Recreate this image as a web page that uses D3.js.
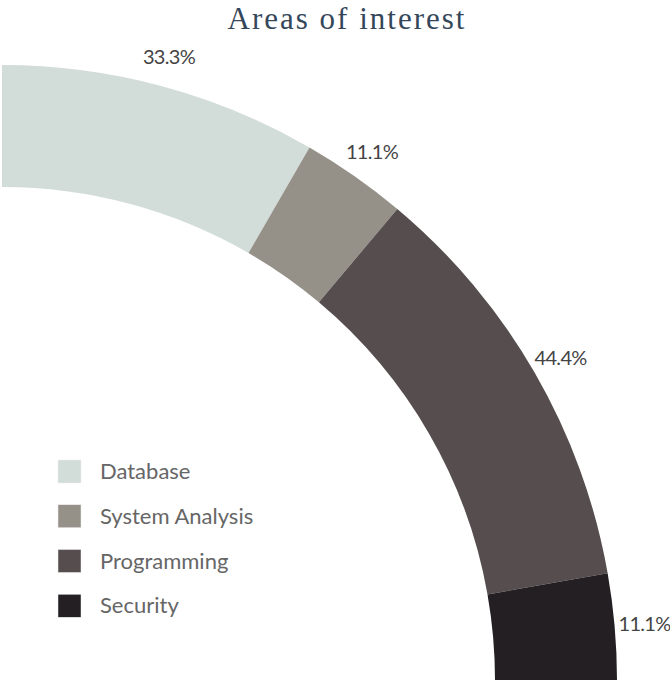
<!DOCTYPE html>
<html lang="en">
<head>
  <meta charset="UTF-8">
  <title>Areas of interest</title>
  <script src="https://d3js.org/d3.v7.min.js"></script>
  <style>
    body { margin: 0; background: #fff; }
  </style>
</head>
<body>
  <div class="canvas"></div>
  <script>
    const categories = ['Database', 'System Analysis', 'Programming', 'Security'];
    const values = [33.3, 11.1, 44.4, 11.1];
    const colors = ['#d2dcd8', '#959189', '#564e4e', '#231f22'];

    const width = 670, height = 685;
    const center = { x: 2, y: 680 };

    const svg = d3.select('.canvas')
      .append('svg')
      .attr('width', width)
      .attr('height', height);

    // title
    svg.append('text')
      .attr('x', 347)
      .attr('y', 29)
      .attr('text-anchor', 'middle')
      .attr('fill', '#34475a')
      .style('font-family', '"Liberation Serif", serif')
      .style('font-size', '31px')
      .style('letter-spacing', '2px')
      .text('Areas of interest');

    const data = categories.map((c, i) => ({ name: c, value: values[i], color: colors[i] }));

    // quarter donut: top -> right
    const pie = d3.pie()
      .sort(null)
      .value(d => d.value)
      .startAngle(0)
      .endAngle(Math.PI / 2);

    const arc = d3.arc()
      .innerRadius(493)
      .outerRadius(615);

    const labelArc = d3.arc()
      .innerRadius(645)
      .outerRadius(645);

    const g = svg.append('g')
      .attr('transform', `translate(${center.x}, ${center.y})`);

    const slices = pie(data);

    g.selectAll('path')
      .data(slices)
      .enter()
      .append('path')
      .attr('d', arc)
      .attr('fill', d => d.data.color);

    g.selectAll('text.pct')
      .data(slices)
      .enter()
      .append('text')
      .attr('class', 'pct')
      .attr('transform', d => `translate(${labelArc.centroid(d)})`)
      .attr('text-anchor', 'middle')
      .attr('dy', '0.35em')
      .attr('fill', '#444')
      .style('font-family', 'Lato, sans-serif')
      .style('font-size', '20px')
      .style('letter-spacing', '-0.7px')
      .text(d => d.data.value.toFixed(1) + '%');

    // legend
    const legend = svg.append('g')
      .attr('transform', 'translate(58, 460)');

    const row = d3.scaleBand()
      .domain(categories)
      .range([0, 179]);

    const items = legend.selectAll('g')
      .data(data)
      .enter()
      .append('g')
      .attr('transform', d => `translate(0, ${row(d.name)})`);

    items.append('rect')
      .attr('width', 23)
      .attr('height', 23)
      .attr('fill', d => d.color)
      .attr('stroke', '#eee')
      .attr('stroke-width', 0.5);

    items.append('text')
      .attr('x', 42)
      .attr('y', 11.5)
      .attr('dy', '0.35em')
      .attr('fill', '#666')
      .style('font-family', 'Lato, sans-serif')
      .style('font-size', '22px')
      .text(d => d.name);
  </script>
</body>
</html>
